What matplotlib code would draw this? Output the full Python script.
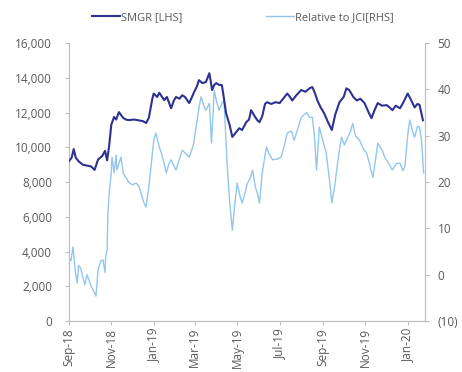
"""SMGR share price vs relative-to-JCI chart"""

import matplotlib
matplotlib.use('Agg')
import matplotlib.pyplot as plt
from matplotlib.ticker import FuncFormatter, MultipleLocator
import pandas as pd

start = pd.Timestamp('2018-09-01')

# SMGR price (LHS), day offsets from start
smgr_days = [0, 4, 7, 10, 14, 20, 26, 32, 37, 42,
             48, 52, 55, 58, 61, 65, 68, 72, 78, 82,
             86, 94, 101, 107, 111, 115, 120, 122, 127, 130,
             134, 137, 141, 147, 151, 154, 159, 163, 167, 173,
             177, 180, 184, 187, 192, 197, 202, 206, 209, 212,
             216, 220, 223, 226, 231, 235, 239, 245, 249, 255,
             259, 262, 267, 271, 274, 278, 282, 285, 291, 297,
             303, 308, 314, 318, 321, 327, 334, 340, 346, 350,
             354, 357, 362, 367, 372, 378, 383, 389, 395, 399,
             403, 409, 414, 419, 425, 431, 435, 440, 444, 450,
             457, 461, 465, 470, 476, 481, 487, 491, 497, 501,
             504, 509]
smgr_vals = [9200, 9400, 9900, 9400, 9200, 9000, 8950, 8900, 8700, 9300,
             9500, 9800, 9250, 10100, 11300, 11750, 11600, 12030, 11700, 11600,
             11570, 11600, 11550, 11500, 11400, 11700, 12800, 13100, 12900, 13150,
             12900, 12720, 12900, 12250, 12700, 12900, 12800, 13000, 12900, 12550,
             12900, 13180, 13500, 13870, 13700, 13760, 14270, 13300, 13600, 13700,
             13600, 13580, 12800, 11970, 11300, 10600, 10800, 11100, 11000, 11450,
             11600, 12140, 11800, 11560, 11450, 11800, 12500, 12600, 12500, 12600,
             12550, 12800, 13100, 12900, 12700, 13000, 13300, 13200, 13400, 13470,
             13100, 12720, 12300, 11960, 11500, 11000, 11900, 12600, 12900, 13400,
             13300, 12900, 12700, 12800, 12550, 12000, 11680, 12200, 12550, 12400,
             12430, 12300, 12140, 12400, 12250, 12600, 13100, 12800, 12300, 12500,
             12450, 11560]

# relative to JCI (RHS)
rel_days = [0, 3, 6, 9, 12, 14, 17, 20, 23, 26,
            29, 32, 35, 39, 42, 46, 49, 52, 53, 55,
            56, 58, 61, 62, 65, 68, 69, 72, 75, 78,
            82, 86, 91, 97, 101, 105, 108, 111, 115, 120,
            122, 125, 130, 133, 137, 140, 144, 147, 151, 154,
            159, 163, 169, 173, 179, 183, 187, 190, 195, 197,
            202, 205, 209, 213, 216, 220, 223, 228, 231, 235,
            239, 242, 246, 249, 254, 256, 261, 264, 268, 271,
            274, 278, 284, 288, 293, 300, 305, 310, 314, 320,
            324, 330, 334, 342, 346, 350, 353, 356, 360, 365,
            370, 375, 378, 382, 385, 389, 392, 396, 401, 405,
            408, 412, 418, 424, 428, 432, 437, 441, 444, 450,
            454, 460, 465, 471, 476, 480, 483, 487, 490, 494,
            497, 501, 504, 507, 510]
rel_vals = [3.6, 3, 6, 1, -1.8, 2, 1.4, -0.5, -2.2, 0,
            -1.2, -2.5, -3.3, -4.6, 1, 3, 3.2, 0.5, 4, 5.3,
            12.9, 17.6, 22, 25.4, 22, 25.8, 22.6, 24, 25.4, 22,
            21, 20, 19.4, 19.8, 19, 17, 15.5, 14.6, 19, 26,
            29, 30.6, 27.5, 26.3, 24, 22, 24, 24.8, 23.5, 22.6,
            25, 26.9, 26, 25.4, 28, 31.9, 36, 38.4, 36, 35.5,
            37, 28.4, 39.8, 37, 35.5, 37, 37.7, 22.6, 16, 9.6,
            16, 19.8, 17, 15.5, 18, 19.5, 21, 22.6, 19, 17.6,
            15.5, 22, 27.6, 26, 24.8, 25, 25.4, 28, 30.6, 31,
            29, 32, 34, 35, 34, 34, 30, 22.6, 31.9, 29,
            26.3, 20, 15.5, 19, 22.6, 27, 29.7, 28, 29.7, 31,
            32.7, 30, 29, 27, 26.3, 24, 21, 25, 28.4, 27,
            25.4, 24, 22.6, 24, 24.1, 22.5, 23.3, 30, 33.4, 31,
            29.7, 32, 31.9, 29, 22]

tick_dates = pd.date_range('2018-09-01', '2020-01-01', freq='2MS')
tick_labels = [d.strftime('%b-%y') for d in tick_dates]

smgr_dates = start + pd.to_timedelta(smgr_days, unit='D')
rel_dates = start + pd.to_timedelta(rel_days, unit='D')

plt.rcParams['font.family'] = ['Open Sans', 'DejaVu Sans']
tick_col = '#595959'
axis_col = '#bfbfbf'

fig = plt.figure(figsize=(4.62, 3.72), dpi=100)
ax1 = fig.add_axes([0.149, 0.137, 0.771, 0.747])
ax2 = ax1.twinx()

l1, = ax1.plot(smgr_dates, smgr_vals, color='#2e3192', linewidth=1.5,
               label='SMGR [LHS]', zorder=3)
l2, = ax2.plot(rel_dates, rel_vals, color='#92c6ee', linewidth=1.0,
               label='Relative to JCI[RHS]')
ax1.set_zorder(ax2.get_zorder() + 1)
ax1.patch.set_visible(False)

ax1.set_ylim(0, 16000)
ax1.yaxis.set_major_locator(MultipleLocator(2000))
ax1.yaxis.set_major_formatter(FuncFormatter(lambda v, p: f'{v:,.0f}'))
ax2.set_ylim(-10, 50)
ax2.yaxis.set_major_locator(MultipleLocator(10))
ax2.yaxis.set_major_formatter(
    FuncFormatter(lambda v, p: f'({abs(v):.0f})' if v < 0 else f'{v:.0f}'))

ax1.set_xlim(start, start + pd.Timedelta(days=512))
ax1.set_xticks(tick_dates)
ax1.set_xticklabels(tick_labels)

for ax in (ax1, ax2):
    ax.spines['top'].set_visible(False)
    for s in ('left', 'right', 'bottom'):
        ax.spines[s].set_color(axis_col)
    ax.tick_params(labelsize=8.5, colors=tick_col, length=3, width=0.8)
    ax.tick_params(axis='both', color=axis_col)
ax1.tick_params(axis='x', labelrotation=90, pad=2)
ax1.tick_params(axis='y', pad=9)
ax2.tick_params(axis='y', pad=6)

fig.legend(handles=[l1, l2], loc='center', bbox_to_anchor=(0.526, 0.952),
           ncol=2, frameon=False, fontsize=8, labelcolor=tick_col,
           columnspacing=7.5, handlelength=2.5, handletextpad=0.1)

plt.savefig('out.png', dpi=100)
